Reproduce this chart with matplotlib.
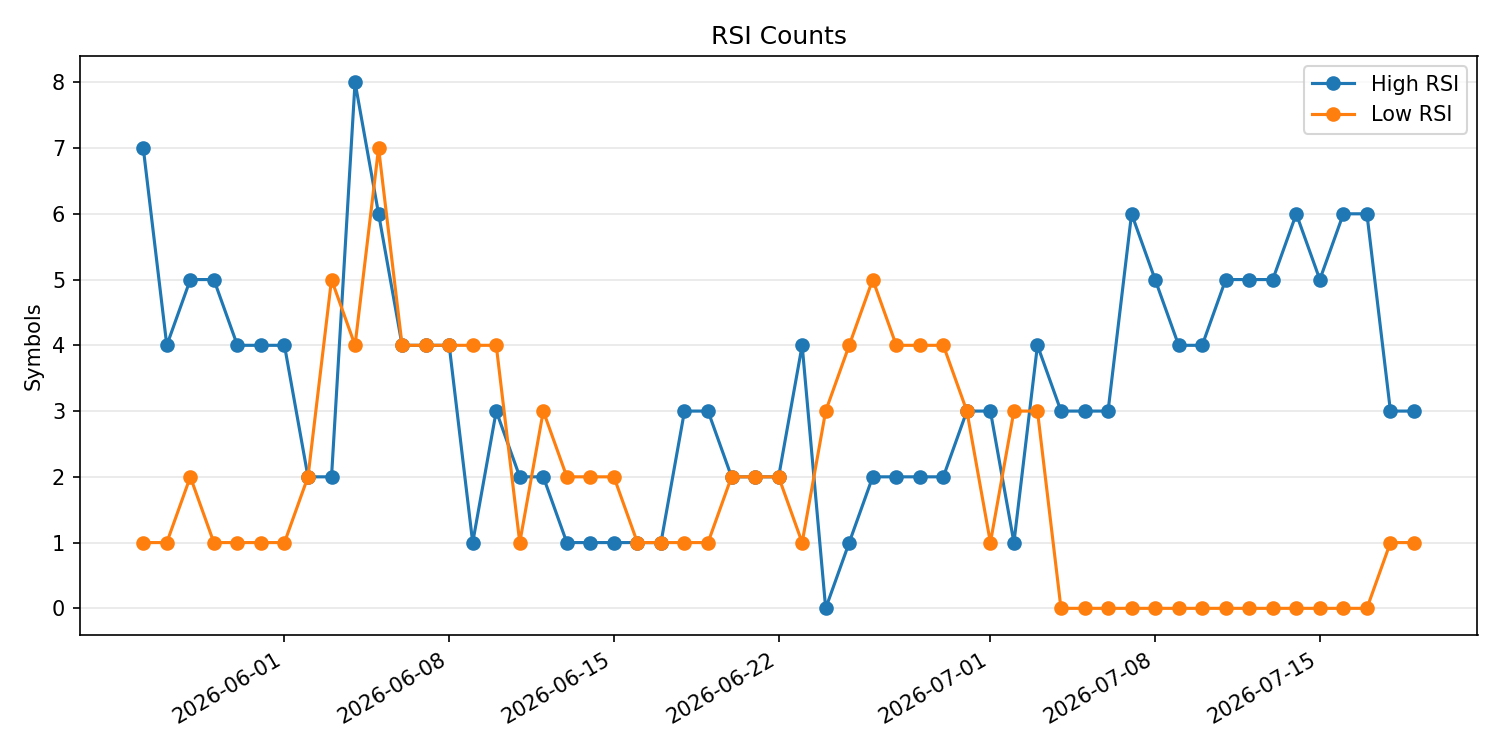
import numpy as np
import pandas as pd
import matplotlib
matplotlib.use('Agg')
import matplotlib.pyplot as plt

dates = pd.date_range('2026-05-26', '2026-07-19', freq='D')
high_rsi = [7, 4, 5, 5, 4, 4, 4, 2, 2, 8, 6, 4, 4, 4, 1, 3, 2, 2, 1, 1,
            1, 1, 1, 3, 3, 2, 2, 2, 4, 0, 1, 2, 2, 2, 2, 3, 3, 1, 4, 3,
            3, 3, 6, 5, 4, 4, 5, 5, 5, 6, 5, 6, 6, 3, 3]
low_rsi = [1, 1, 2, 1, 1, 1, 1, 2, 5, 4, 7, 4, 4, 4, 4, 4, 1, 3, 2, 2,
           2, 1, 1, 1, 1, 2, 2, 2, 1, 3, 4, 5, 4, 4, 4, 3, 1, 3, 3, 0,
           0, 0, 0, 0, 0, 0, 0, 0, 0, 0, 0, 0, 0, 1, 1]

fig, ax = plt.subplots(figsize=(10, 5))
ax.plot(dates, high_rsi, marker='o', label='High RSI')
ax.plot(dates, low_rsi, marker='o', label='Low RSI')
ax.set_title('RSI Counts')
ax.set_ylabel('Symbols')
ax.grid(axis='y', alpha=0.3)
ax.legend()
fig.autofmt_xdate()
plt.tight_layout()
plt.savefig('out.png', dpi=150)
